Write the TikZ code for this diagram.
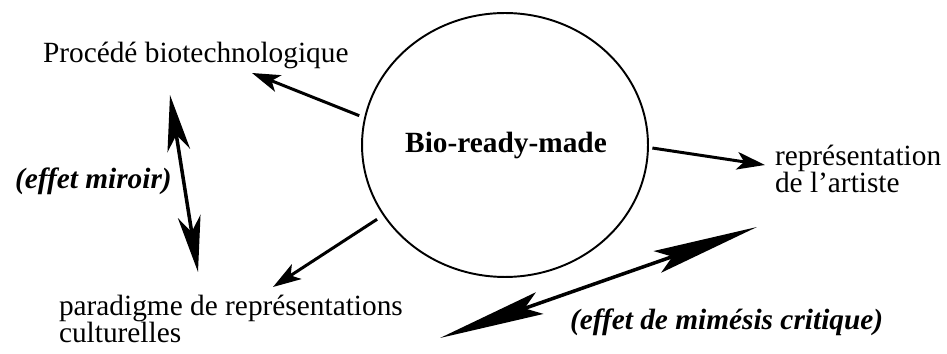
\documentclass[tikz,border=0pt]{standalone}
\usepackage{fontspec}
\setmainfont{Liberation Serif}
\usetikzlibrary{arrows.meta}
\usetikzlibrary{shapes.geometric}

\begin{document}
\begin{tikzpicture}[
x=0.02cm, y=-0.02cm,
txt/.style = {font=\fontsize{16.7}{15.5}\selectfont, inner sep=0pt,
            outer sep=0pt, anchor=base west},
eff/.style = {txt, font=\fontsize{16.7}{15.5}\selectfont\bfseries\itshape},
arr/.style = {line width=1.7pt, -{Stealth[length=16pt, width=10pt, inset=4pt]}},
dbl/.style = {line width=2pt, {Stealth[length=#1, width=13pt, inset=9pt]}-{Stealth[length=#1, width=13pt, inset=9pt]}},
dbl/.default = 32pt  % length of the long arrow heads
                ]
    \useasboundingbox (0,0) rectangle (947,354);
    % centre
    \node[draw, ellipse, line width=1.1pt, minimum width=5.72cm,
          minimum height=5.28cm, inner sep=0pt] (bio) at (505,145) {};
    \node[font=\fontsize{16.7}{15.5}\selectfont\bfseries] (biotxt) at (506,145) {Bio-ready-made};
    % labels (base = last line)
    \node[txt] (proc) at (43,63) {Procédé biotechnologique};
    \node[txt, align=left] (repr) at (775,193) {représentation\\de l’artiste};
    \node[txt, align=left] (para) at (59,343) {paradigme de représentations\\culturelles};
    \node[eff] (miroir) at (15,189) {(effet miroir)};
    \node[eff] (mimesis) at (570,330) {(effet de mimésis critique)};
    % free ends
    \coordinate (toproc) at (252,73);
    \coordinate (torepr) at (765,165);
    \coordinate (topara) at (273,287);
    \coordinate (mirtop) at (170,95);
    \coordinate (mirbot) at (198,272);
    \coordinate (mimlow) at (440,338);
    \coordinate (mimup) at (757,227);
    \draw [arr, shorten <=3pt] (bio.169) -- (toproc);
    \draw [arr, shorten <=2pt] (bio.-1) -- (torepr);
    \draw [arr, shorten <=4pt] (bio.210) -- (topara);
    \draw [dbl] (mirtop) -- (mirbot);
    \draw [dbl=60pt] (mimlow) -- (mimup);
\end{tikzpicture}
\end{document}
